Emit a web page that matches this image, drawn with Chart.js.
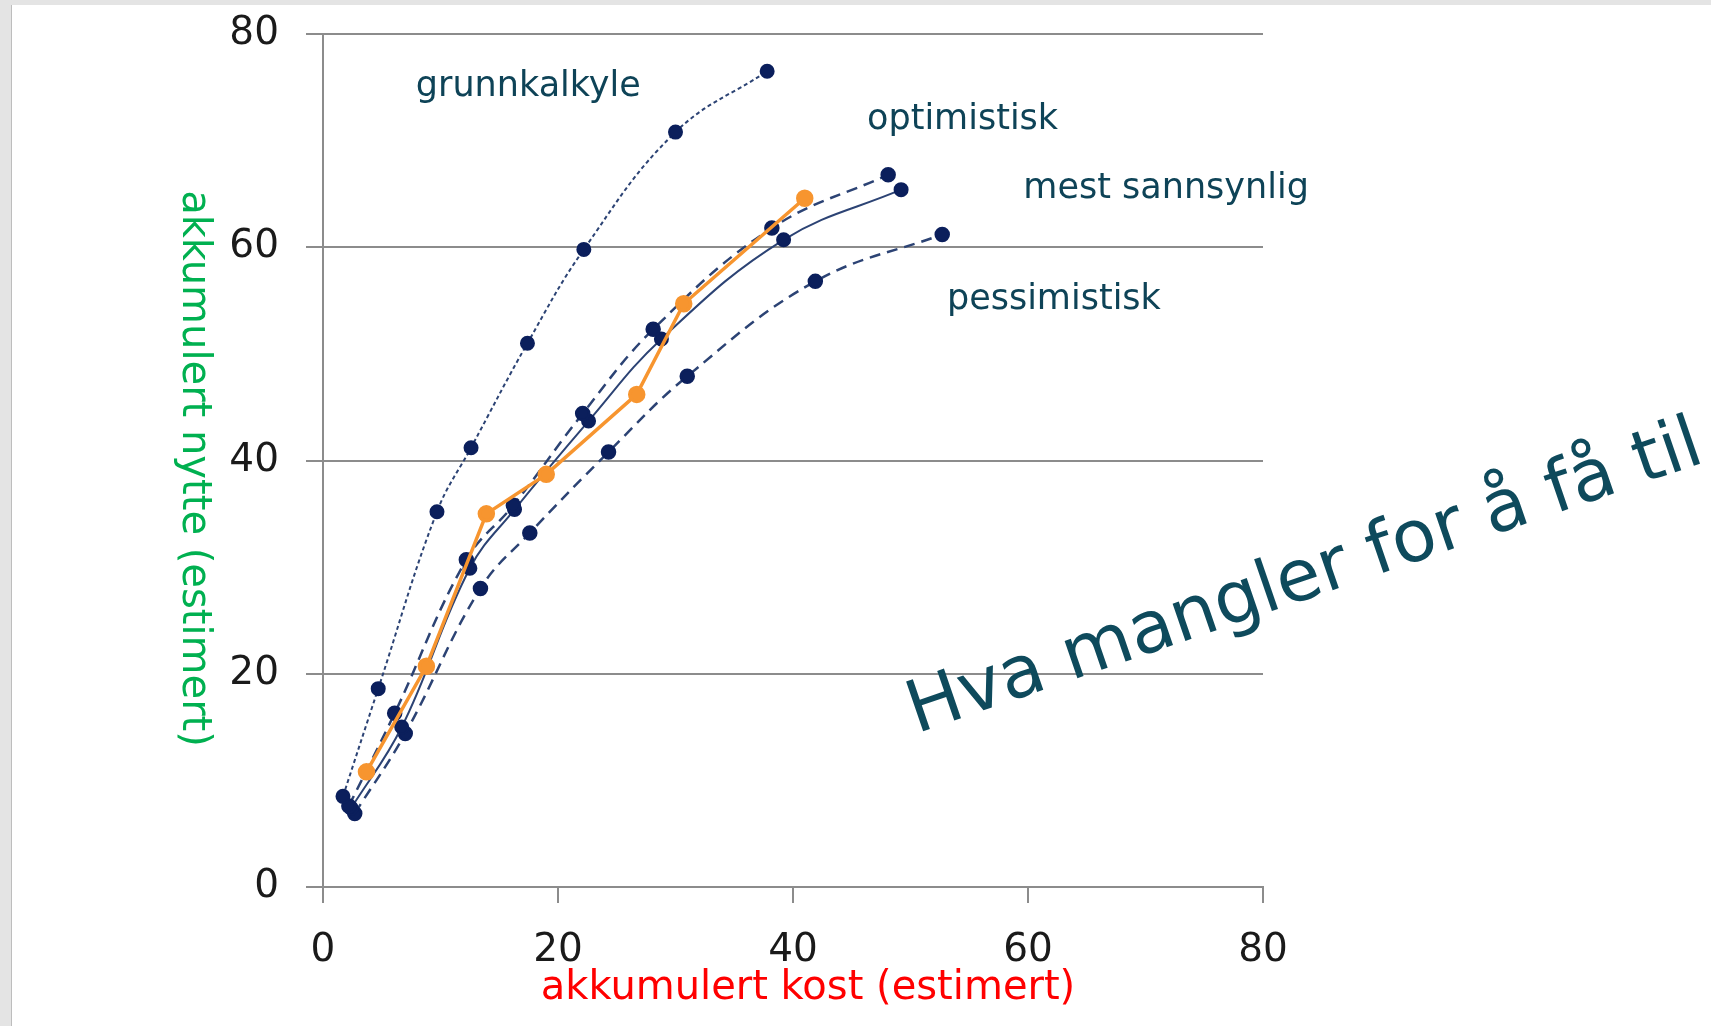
<!DOCTYPE html>
<html lang="no">
<head>
<meta charset="UTF-8">
<title>Akkumulert nytte mot kost</title>
<script src="https://cdn.jsdelivr.net/npm/chart.js@4.4.1/dist/chart.umd.min.js"></script>
<style>
  html, body { margin: 0; padding: 0; }
  body { width: 1711px; height: 1026px; background: #e4e4e4; position: relative; overflow: hidden; }
  .panel { position: absolute; left: 11px; top: 5px; right: 0; bottom: 0; background: #fff; border-left: 1px solid #bdbdbd; }
  #graf { position: absolute; left: 0; top: 0; }
</style>
</head>
<body>
<div class="panel"></div>
<canvas id="graf" width="1711" height="1026"></canvas>

<script>
// akse-ticks
const xTicks = [0, 20, 40, 60, 80];
const yTicks = [0, 20, 40, 60, 80];

// kurver (kost, nytte)
const grunnX = [1.7, 4.7, 9.7, 12.6, 17.4, 22.2, 30.0, 37.8];
const grunnY = [8.5, 18.6, 35.2, 41.2, 51.0, 59.8, 70.8, 76.5];

const optX = [2.2, 6.1, 12.2, 16.2, 22.1, 28.1, 38.2, 48.1];
const optY = [7.6, 16.3, 30.7, 35.8, 44.4, 52.3, 61.8, 66.8];

const mestX = [2.4, 6.7, 12.5, 16.3, 22.6, 28.8, 39.2, 49.2];
const mestY = [7.4, 15.0, 29.9, 35.4, 43.7, 51.4, 60.7, 65.4];

const pessX = [2.7, 7.0, 13.4, 17.6, 24.3, 31.0, 41.9, 52.7];
const pessY = [6.9, 14.4, 28.0, 33.2, 40.8, 47.9, 56.8, 61.2];

const faktiskX = [3.7, 8.8, 13.9, 19.0, 26.7, 30.7, 41.0];
const faktiskY = [10.8, 20.7, 35.0, 38.7, 46.2, 54.7, 64.6];

const navn = ['grunnkalkyle', 'optimistisk', 'mest sannsynlig', 'pessimistisk'];

function punkter(xs, ys) {
  return xs.map((x, i) => ({ x: x, y: ys[i] }));
}

const navy = '#0b1f5c';
const navyLinje = '#2c4374';

// tekstetiketter, plassert i dataverdier
const etiketter = [
  { tekst: navn[0], x: 7.9, y: 75.0 },
  { tekst: navn[1], x: 46.3, y: 71.9 },
  { tekst: navn[2], x: 59.6, y: 65.5 },
  { tekst: navn[3], x: 53.1, y: 55.1 }
];

const tekstPlugin = {
  id: 'tekster',
  afterDraw(chart) {
    const c = chart.ctx;
    const xs = chart.scales.x, ys = chart.scales.y;
    const a = chart.chartArea;
    c.save();
    c.fillStyle = '#0e4357';
    c.font = '35px "DejaVu Sans"';
    c.textAlign = 'left';
    c.textBaseline = 'middle';
    etiketter.forEach(e => {
      c.fillText(e.tekst, xs.getPixelForValue(e.x), ys.getPixelForValue(e.y));
    });

    // aksetitler
    c.font = '40px "DejaVu Sans"';
    c.textAlign = 'center';
    c.fillStyle = '#ff0000';
    c.fillText('akkumulert kost (estimert)', (a.left + a.right) / 2 + 15, a.bottom + 102);

    c.save();
    c.translate(a.left - 130, (a.top + a.bottom) / 2 + 8);
    c.rotate(Math.PI / 2);
    c.fillStyle = '#00b050';
    c.fillText('akkumulert nytte (estimert)', 0, 0);
    c.restore();

    // stor skrå tekst
    c.save();
    c.translate(xs.getPixelForValue(50.5), ys.getPixelForValue(14.4));
    c.rotate(-19 * Math.PI / 180);
    c.font = '72px "DejaVu Sans"';
    c.textAlign = 'left';
    c.textBaseline = 'alphabetic';
    c.fillStyle = '#0e4a5c';
    c.fillText('Hva mangler for å få til dette?', 0, 0);
    c.restore();
    c.restore();
  }
};

const grid = '#8c8c8c';

new Chart(document.getElementById('graf').getContext('2d'), {
  type: 'scatter',
  data: {
    datasets: [
      {
        label: 'faktisk',
        data: punkter(faktiskX, faktiskY),
        showLine: true,
        borderColor: '#f7952f',
        backgroundColor: '#f7952f',
        borderWidth: 3.5,
        pointRadius: 7,
        pointHoverRadius: 7,
        order: 0
      },
      {
        label: navn[0],
        data: punkter(grunnX, grunnY),
        showLine: true,
        tension: 0.4,
        borderColor: navyLinje,
        backgroundColor: navy,
        borderWidth: 2,
        borderDash: [4, 3],
        pointBorderColor: navy,
        pointRadius: 6.5,
        order: 1
      },
      {
        label: navn[1],
        data: punkter(optX, optY),
        showLine: true,
        tension: 0.4,
        borderColor: navyLinje,
        backgroundColor: navy,
        borderWidth: 2.5,
        borderDash: [11, 7],
        pointBorderColor: navy,
        pointRadius: 6.5,
        order: 1
      },
      {
        label: navn[2],
        data: punkter(mestX, mestY),
        showLine: true,
        tension: 0.4,
        borderColor: navyLinje,
        backgroundColor: navy,
        borderWidth: 2,
        pointBorderColor: navy,
        pointRadius: 6.5,
        order: 1
      },
      {
        label: navn[3],
        data: punkter(pessX, pessY),
        showLine: true,
        tension: 0.4,
        borderColor: navyLinje,
        backgroundColor: navy,
        borderWidth: 2.5,
        borderDash: [11, 7],
        pointBorderColor: navy,
        pointRadius: 6.5,
        order: 1
      }
    ]
  },
  options: {
    responsive: false,
    animation: false,
    devicePixelRatio: 1,
    layout: { padding: { top: 34, right: 448, left: 0, bottom: 0 } },
    plugins: { legend: { display: false }, tooltip: { enabled: false } },
    scales: {
      x: {
        type: 'linear',
        min: 0, max: 80,
        afterBuildTicks(s) { s.ticks = xTicks.map(v => ({ value: v })); },
        afterFit(s) { s.height = 139; s.paddingLeft = 0; s.paddingRight = 0; },
        ticks: { font: { family: 'DejaVu Sans', size: 39 }, color: '#1a1a1a', padding: 24, maxRotation: 0 },
        grid: { drawOnChartArea: false, drawTicks: true, tickLength: 16, color: grid, lineWidth: 2 },
        border: { color: grid, width: 2 }
      },
      y: {
        type: 'linear',
        min: 0, max: 80,
        afterBuildTicks(s) { s.ticks = yTicks.map(v => ({ value: v })); },
        afterFit(s) { s.width = 323; s.paddingTop = 0; s.paddingBottom = 0; },
        ticks: { font: { family: 'DejaVu Sans', size: 39 }, color: '#1a1a1a', padding: 27 },
        grid: { color: grid, lineWidth: 2, tickLength: 17 },
        border: { color: grid, width: 2 }
      }
    }
  },
  plugins: [tekstPlugin]
});
</script>
</body>
</html>
